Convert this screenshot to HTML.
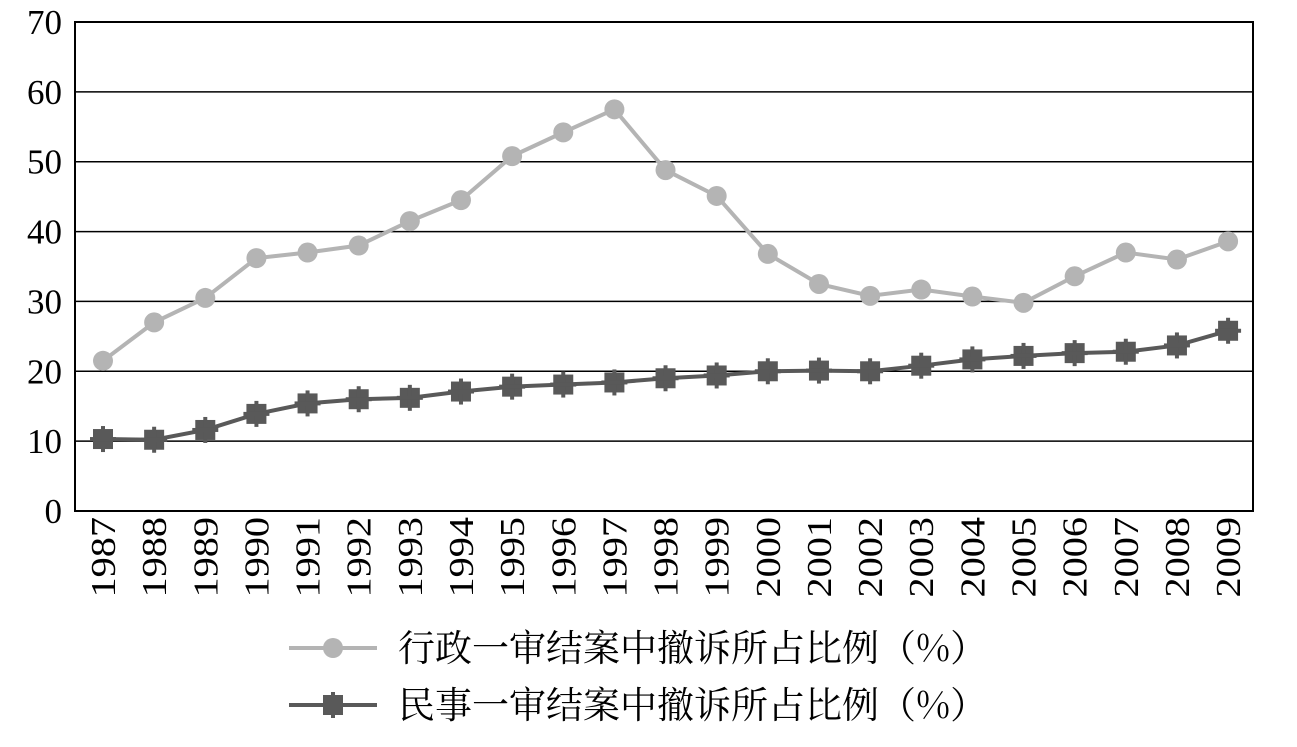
<!DOCTYPE html>
<html><head><meta charset="utf-8"><style>
html,body{margin:0;padding:0;background:#fff;}
svg{display:block;}
</style></head><body>
<svg id="c" width="1297" height="747" xmlns="http://www.w3.org/2000/svg" font-family="'Liberation Serif','Noto Serif CJK SC',serif"></svg>
<script>
const s=document.getElementById('c');
const L=75,R=1253,T=22,B=511;
const yv=v=>B-(B-T)*v/70;
const xv=i=>103+i*51.14;
let h='';
for(let v=0;v<=70;v+=10){const y=yv(v);
 if(v>0&&v<70)h+=`<line x1="${L}" x2="${R}" y1="${y}" y2="${y}" stroke="#000" stroke-width="1.5"/>`;
 h+=`<text x="62" y="${y+12}" font-size="35" text-anchor="end">${v}</text>`;}
h+=`<rect x="${L}" y="${T}" width="${R-L}" height="${B-T}" fill="none" stroke="#000" stroke-width="2"/>`;
for(let i=0;i<23;i++){const x=xv(i);
 h+=`<text transform="translate(${x+12},${517}) rotate(-90) scale(1.15,1)" font-size="35" text-anchor="end">${1987+i}</text>`;}
const g=[21.5,27,30.5,36.2,37,38,41.5,44.5,50.8,54.2,57.5,48.8,45.1,36.8,32.5,30.8,31.7,30.7,29.8,33.6,37,36,38.6];
const d=[10.3,10.2,11.6,13.9,15.4,16,16.2,17.1,17.8,18.1,18.4,19,19.4,20,20.1,20,20.8,21.7,22.2,22.6,22.8,23.7,25.8];
h+=`<polyline fill="none" stroke="#b4b4b4" stroke-width="4" points="${g.map((v,i)=>xv(i)+','+yv(v)).join(' ')}"/>`;
g.forEach((v,i)=>h+=`<circle cx="${xv(i)}" cy="${yv(v)}" r="10" fill="#b4b4b4"/>`);
h+=`<polyline fill="none" stroke="#595959" stroke-width="4" points="${d.map((v,i)=>xv(i)+','+yv(v)).join(' ')}"/>`;
function sq(x,y){return `<rect x="${x-10}" y="${y-10}" width="20" height="20" fill="#595959"/><rect x="${x-2}" y="${y-13}" width="4" height="26" fill="#595959"/><rect x="${x-13}" y="${y-2}" width="26" height="4" fill="#595959"/>`;}
d.forEach((v,i)=>h+=sq(xv(i),yv(v)));
h+=`<line x1="289" x2="377" y1="648" y2="648" stroke="#b4b4b4" stroke-width="4"/><circle cx="333" cy="648" r="10" fill="#b4b4b4"/>`;
h+=`<text x="398" y="661" font-size="37" font-family="'Noto Serif CJK SC','Liberation Serif',serif">行政一审结案中撤诉所占比例（%）</text>`;
h+=`<line x1="289" x2="377" y1="705" y2="705" stroke="#595959" stroke-width="4"/>`+sq(333,705);
h+=`<text x="398" y="718" font-size="37" font-family="'Noto Serif CJK SC','Liberation Serif',serif">民事一审结案中撤诉所占比例（%）</text>`;
s.innerHTML=h;
</script>
</body></html>
